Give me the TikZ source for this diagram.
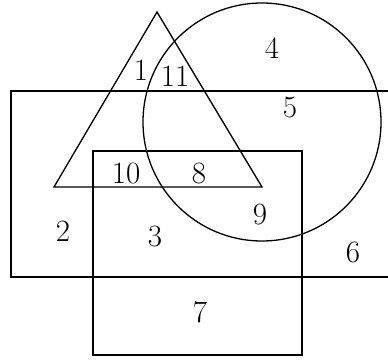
\documentclass[tikz,border=0pt]{standalone}
\usetikzlibrary{calc}
\tikzset{
  edge/.style={draw=black, line width=1.3pt, line join=miter},
  lbl/.style={font=\fontsize{31}{33}\selectfont, inner sep=0pt},
}
\begin{document}
\begin{tikzpicture}[x=1pt,y=-1pt]
  \useasboundingbox (0,0) rectangle (388,361);
  \begin{scope}
    \clip (0,0) rectangle (388,361);
    % big rectangle, its right side runs off the picture
    \draw[edge] (11,91) rectangle (400,277);
    % small rectangle
    \draw[edge] (93,151) rectangle (302,355);
    % triangle
    \draw[edge] (157,12) -- (262,187) -- (54,187) -- cycle;
    % circle
    \draw[edge] (262,122) circle[radius=119];
  \end{scope}
  % region numbers
  \node[lbl] (r1)  at (141,70)  {1};
  \node[lbl] (r11) at (175,76)  {11};
  \node[lbl] (r4)  at (272,48)  {4};
  \node[lbl] (r5)  at (290,108) {5};
  \node[lbl] (r10) at (126,174) {10};
  \node[lbl] (r8)  at (199,174) {8};
  \node[lbl] (r9)  at (260,215) {9};
  \node[lbl] (r2)  at (63,231)  {2};
  \node[lbl] (r3)  at (155,236) {3};
  \node[lbl] (r6)  at (353,252) {6};
  \node[lbl] (r7)  at (200,312) {7};
\end{tikzpicture}
\end{document}
